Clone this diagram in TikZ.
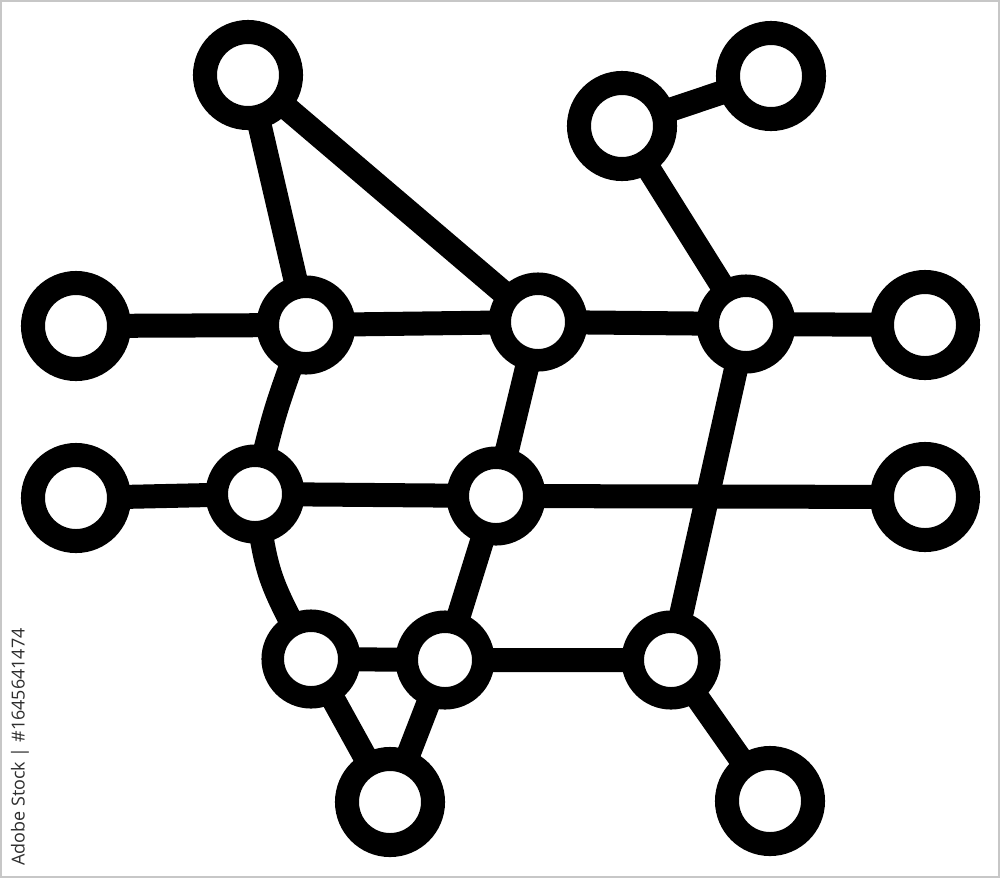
\documentclass[tikz,border=0pt]{standalone}
\usepackage{fontspec}
\newfontfamily\stockfont{Open Sans}
\usetikzlibrary{backgrounds}
\begin{document}
\begin{tikzpicture}[x=0.01cm,y=-0.01cm,
  edge/.style={line width=0.24cm, draw=black},
  bignode/.style={circle, draw=black, fill=white, line width=0.24cm, minimum size=0.86cm, inner sep=0pt},
  smallnode/.style={circle, draw=black, fill=white, line width=0.225cm, minimum size=0.765cm, inner sep=0pt},
  stamp/.style={rotate=90, text=black!82, font=\stockfont\fontsize{5.1}{6}\selectfont, inner sep=0pt}]
\useasboundingbox (0,0) rectangle (1000,878);
% nodes
\node[bignode]   (A) at (248,75)  {};
\node[bignode]   (B) at (622,126) {};
\node[bignode]   (C) at (771,76)  {};
\node[bignode]   (D) at (76,326)  {};
\node[smallnode] (E) at (306,325) {};
\node[smallnode] (F) at (538,322) {};
\node[smallnode] (G) at (746,324) {};
\node[bignode]   (H) at (925,325) {};
\node[bignode]   (I) at (76,498)  {};
\node[smallnode] (J) at (255,494) {};
\node[smallnode] (K) at (496,496) {};
\node[bignode]   (L) at (925,497) {};
\node[smallnode] (M) at (311,659) {};
\node[smallnode] (N) at (445,660) {};
\node[smallnode] (O) at (671,660) {};
\node[bignode]   (P) at (390,802) {};
\node[bignode]   (Q) at (770,801) {};
% connectors
\begin{scope}[on background layer]
\fill[white] (0,0) rectangle (1000,878);
\draw[black!22, line width=0.02cm] (1,1) rectangle (999,877);
\draw[edge] (A.center) -- (E.center);
\draw[edge] (A.center) -- (F.center);
\draw[edge] (B.center) -- (C.center);
\draw[edge] (B.center) -- (G.center);
\draw[edge] (D.center) -- (E.center) -- (F.center) -- (G.center) -- (H.center);
\draw[edge] (E.center) .. controls (274,412) .. (J.center);
\draw[edge] (F.center) -- (K.center);
\draw[edge] (G.center) -- (O.center);
\draw[edge] (I.center) -- (J.center) -- (K.center) -- (L.center);
\draw[edge] (J.center) .. controls (267,577) .. (M.center);
\draw[edge] (K.center) -- (N.center);
\draw[edge] (M.center) -- (N.center) -- (O.center);
\draw[edge] (M.center) -- (P.center);
\draw[edge] (N.center) -- (P.center);
\draw[edge] (O.center) -- (Q.center);
\end{scope}
\node[stamp] (wm) at (20,747) {Adobe Stock | \#1645641474};
\end{tikzpicture}
\end{document}
